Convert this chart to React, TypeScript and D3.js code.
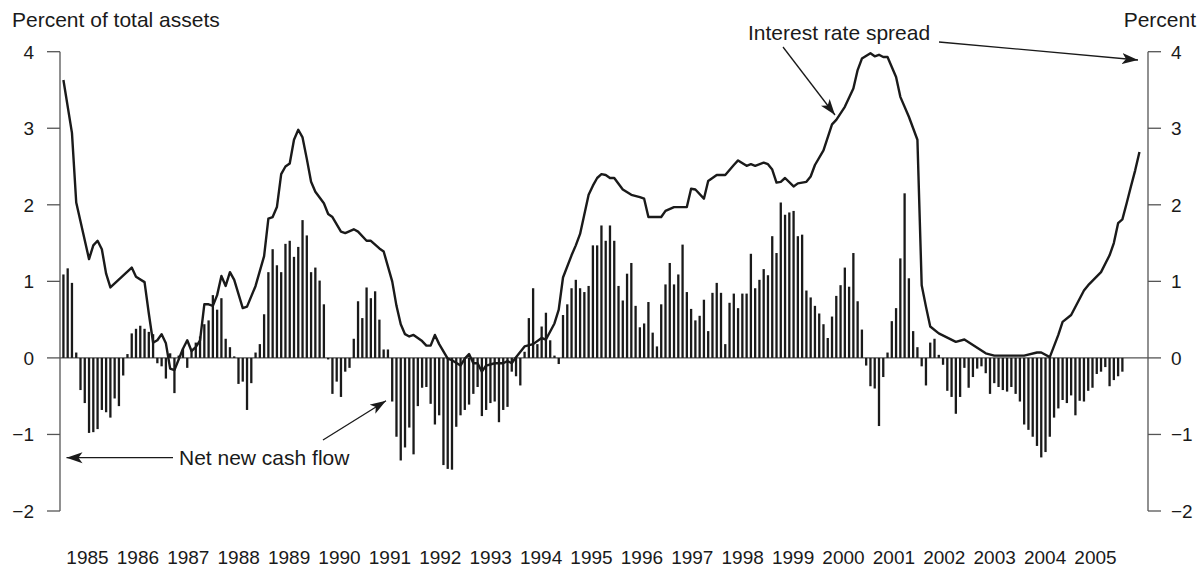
import * as d3 from 'd3';

// net new cash flow, monthly, percent of total assets (left axis)
const cashFlow = [
  1.09, 1.17, 0.98, 0.07, -0.42, -0.59, -0.98, -0.97, -0.93, -0.68, -0.71, -0.78,
  -0.53, -0.63, -0.23, 0.05, 0.32, 0.38, 0.42, 0.38, 0.34, 0.31, -0.07, -0.11,
  -0.27, 0.06, -0.46, 0.03, 0.12, -0.13, 0.1, 0.2, 0.28, 0.44, 0.49, 0.82,
  0.63, 0.78, 0.25, 0.14, 0.02, -0.34, -0.31, -0.68, -0.33, 0.07, 0.18, 0.57,
  1.12, 1.42, 1.21, 1.12, 1.49, 1.53, 1.32, 1.45, 1.8, 1.6, 1.12, 1.18,
  1.01, 0.7, -0.02, -0.47, -0.31, -0.51, -0.18, -0.13, 0.25, 0.74, 0.52, 0.92,
  0.78, 0.87, 0.5, 0.11, 0.11, -0.57, -1.03, -1.34, -1.17, -0.91, -1.26, -0.63,
  -0.39, -0.38, -0.6, -0.87, -0.75, -1.4, -1.45, -1.46, -0.9, -0.75, -0.68, -0.61,
  -0.47, -0.38, -0.76, -0.68, -0.59, -0.57, -0.84, -0.68, -0.64, -0.18, -0.24, -0.36,
  0.08, 0.52, 0.91, 0.18, 0.41, 0.59, 0.23, 0.03, -0.08, 0.56, 0.7, 0.91,
  1.02, 0.91, 0.86, 0.94, 1.47, 1.47, 1.73, 1.53, 1.73, 1.53, 0.94, 0.75,
  1.1, 1.24, 0.68, 0.4, 0.45, 0.73, 0.33, 0.15, 0.7, 0.96, 1.24, 0.96,
  1.09, 1.48, 0.86, 0.64, 0.49, 0.55, 0.76, 0.35, 0.85, 0.98, 0.85, 0.18,
  0.72, 0.84, 0.65, 0.84, 0.84, 1.36, 0.91, 1.02, 1.16, 1.08, 1.59, 1.37,
  2.03, 1.87, 1.9, 1.92, 1.59, 1.61, 0.88, 0.79, 0.68, 0.58, 0.44, 0.26,
  0.54, 0.81, 0.95, 1.18, 0.93, 1.37, 0.74, 0.37, -0.1, -0.37, -0.4, -0.89,
  -0.25, 0.07, 0.48, 0.65, 1.3, 2.15, 1.04, 0.35, 0.14, -0.11, -0.36, 0.2,
  0.25, 0.04, -0.09, -0.43, -0.51, -0.73, -0.51, -0.13, -0.39, -0.25, -0.14, -0.11,
  -0.2, -0.47, -0.33, -0.38, -0.42, -0.44, -0.38, -0.47, -0.57, -0.87, -0.94, -1.03,
  -1.15, -1.3, -1.23, -1.03, -0.78, -0.66, -0.55, -0.59, -0.49, -0.75, -0.56, -0.57,
  -0.43, -0.39, -0.21, -0.18, -0.12, -0.37, -0.29, -0.24, -0.18,
];

// interest rate spread, percent (right axis): month index and value
const spreadMonth = [
  0, 2, 3, 6, 7, 8, 9, 10, 11, 16, 17, 19, 20, 21, 22, 23, 24, 25, 26, 28,
  29, 30, 31, 32, 33, 34, 35, 36, 37, 38, 39, 40, 42, 43, 45, 47, 48, 49, 50, 51,
  52, 53, 54, 55, 56, 57, 58, 59, 61, 62, 63, 65, 66, 68, 69, 71, 72, 74, 75, 77,
  78, 79, 80, 81, 82, 84, 85, 86, 87, 88, 90, 91, 93, 94, 95, 96, 97, 98, 99, 101,
  103, 104, 105, 106, 108, 110, 112, 113, 115, 116, 117, 119, 120, 121, 123, 124, 125, 126, 127, 128,
  129, 131, 133, 135, 136, 137, 140, 141, 143, 146, 147, 148, 150, 151, 153, 155, 157, 158, 160, 161,
  162, 164, 165, 166, 167, 168, 169, 171, 172, 174, 175, 176, 178, 180, 181, 183, 185, 186, 187, 189,
  190, 191, 192, 193, 195, 196, 198, 200, 201, 202, 203, 205, 209, 211, 216, 218, 225, 228, 229, 231,
  233, 234, 236, 239, 240, 243, 245, 246, 247, 248, 249, 250, 251, 252,
];
const spreadValue = [
  3.63, 2.94, 2.03, 1.29, 1.47, 1.53, 1.42, 1.1, 0.92, 1.18, 1.06, 0.99, 0.58, 0.2, 0.23, 0.31, 0.19, -0.14, -0.16, 0.12,
  0.23, 0.09, 0.14, 0.23, 0.7, 0.7, 0.68, 0.82, 1.07, 0.94, 1.12, 1.02, 0.65, 0.67, 0.94, 1.33, 1.82, 1.84, 1.97, 2.4,
  2.5, 2.54, 2.85, 2.98, 2.88, 2.6, 2.3, 2.17, 2.02, 1.88, 1.84, 1.65, 1.63, 1.68, 1.65, 1.53, 1.53, 1.43, 1.39, 1.0,
  0.68, 0.44, 0.31, 0.28, 0.3, 0.22, 0.16, 0.16, 0.3, 0.18, -0.01, -0.03, -0.1, -0.01, 0.05, -0.07, -0.07, -0.18, -0.1, -0.07,
  -0.07, -0.04, -0.07, 0.01, 0.15, 0.18, 0.26, 0.24, 0.45, 0.63, 1.05, 1.34, 1.47, 1.62, 2.13, 2.25, 2.35, 2.4, 2.39, 2.35,
  2.35, 2.2, 2.13, 2.1, 2.08, 1.84, 1.84, 1.92, 1.97, 1.97, 2.21, 2.2, 2.08, 2.31, 2.39, 2.39, 2.52, 2.58, 2.51, 2.53,
  2.51, 2.55, 2.53, 2.46, 2.29, 2.3, 2.35, 2.24, 2.28, 2.3, 2.37, 2.52, 2.71, 3.05, 3.11, 3.28, 3.52, 3.76, 3.91, 3.98,
  3.94, 3.96, 3.93, 3.93, 3.67, 3.41, 3.15, 2.85, 0.95, 0.67, 0.41, 0.32, 0.21, 0.24, 0.06, 0.03, 0.03, 0.07, 0.07, 0.01,
  0.3, 0.47, 0.56, 0.88, 0.95, 1.12, 1.34, 1.5, 1.76, 1.81, 2.02, 2.24, 2.45, 2.69,
];

const years = d3.range(1985, 2006).map(String);
const yTicks = [4, 3, 2, 1, 0, -1, -2];

const W = 1204;
const H = 568;
const left = 60;
const right = 1148;
const top = 51.7;
const bottom = 511;
const font = '"Liberation Sans", Arial, sans-serif';
const ink = '#1a1a1a';
const axisColor = '#555';

const fmt = (v: number) => (v < 0 ? '\u2212' + Math.abs(v) : String(v));

export default function App() {
  const x = d3.scaleLinear().domain([-0.8, 254]).range([left, right]);
  const y = d3.scaleLinear().domain([-2, 4]).range([bottom, top]);
  const yearX = d3.scalePoint<string>().domain(years).range([87.5, 1095.5]);

  const spread = spreadMonth.map((m, k) => [m, spreadValue[k]] as [number, number]);
  const line = d3
    .line<[number, number]>()
    .x((d) => x(d[0]))
    .y((d) => y(d[1]));

  const y0 = y(0);

  return (
    <div style={{ position: 'absolute', left: 0, top: 0 }}>
      <svg width={W} height={H} style={{ display: 'block', background: '#fff' }}>
        <defs>
          <marker
            id="arrow"
            markerUnits="userSpaceOnUse"
            markerWidth={18}
            markerHeight={12}
            refX={16}
            refY={6}
            orient="auto"
          >
            <path d="M0,0.5 L16,6 L0,11.5 L4,6 Z" fill={ink} />
          </marker>
        </defs>

        {/* titles */}
        <text x={12} y={27} fontFamily={font} fontSize={21} fill={ink}>
          Percent of total assets
        </text>
        <text x={1196} y={27} fontFamily={font} fontSize={21} fill={ink} textAnchor="end">
          Percent
        </text>

        {/* axes */}
        <line x1={left} x2={left} y1={top} y2={bottom} stroke={axisColor} strokeWidth={1.3} />
        <line x1={right} x2={right} y1={top} y2={bottom} stroke={axisColor} strokeWidth={1.3} />
        {yTicks.map((t) => (
          <g key={t}>
            <line x1={left - 13} x2={left} y1={y(t)} y2={y(t)} stroke={axisColor} strokeWidth={1.3} />
            <line x1={right} x2={right + 13} y1={y(t)} y2={y(t)} stroke={axisColor} strokeWidth={1.3} />
            <text x={34} y={y(t)} dy="0.36em" textAnchor="end" fontFamily={font} fontSize={19} fill={ink}>
              {fmt(t)}
            </text>
            <text x={1171} y={y(t)} dy="0.36em" fontFamily={font} fontSize={19} fill={ink}>
              {fmt(t)}
            </text>
          </g>
        ))}
        <line x1={left} x2={right} y1={y0} y2={y0} stroke={axisColor} strokeWidth={1.3} />

        {/* bars */}
        {cashFlow.map((v, i) => (
          <rect
            key={i}
            x={x(i) - 1.15}
            width={2.3}
            y={Math.min(y(v), y0)}
            height={Math.abs(y(v) - y0)}
            fill={ink}
          />
        ))}

        {/* spread line */}
        <path d={line(spread) ?? ''} fill="none" stroke={ink} strokeWidth={2.4} strokeLinejoin="round" />

        {/* year labels */}
        {years.map((yr) => (
          <text key={yr} x={yearX(yr)} y={564} textAnchor="middle" fontFamily={font} fontSize={19} fill={ink}>
            {yr}
          </text>
        ))}

        {/* annotations */}
        <text x={748} y={40} fontFamily={font} fontSize={21} fill={ink}>
          Interest rate spread
        </text>
        <line x1={783} y1={47} x2={835} y2={115} stroke={ink} strokeWidth={1.3} markerEnd="url(#arrow)" />
        <line x1={939} y1={42} x2={1138} y2={60} stroke={ink} strokeWidth={1.3} markerEnd="url(#arrow)" />

        <text x={179} y={465} fontFamily={font} fontSize={21} fill={ink}>
          Net new cash flow
        </text>
        <line x1={173} y1={457.7} x2={66.5} y2={457.7} stroke={ink} strokeWidth={1.3} markerEnd="url(#arrow)" />
        <line x1={323} y1={440} x2={386} y2={400.7} stroke={ink} strokeWidth={1.3} markerEnd="url(#arrow)" />
      </svg>
    </div>
  );
}
